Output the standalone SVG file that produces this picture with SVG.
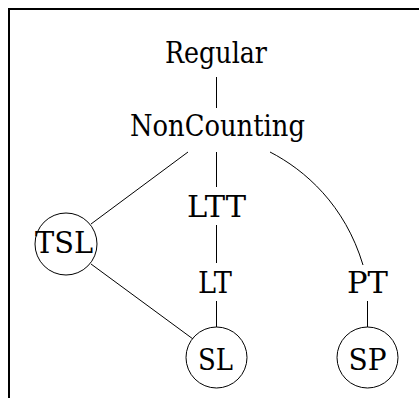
<svg xmlns="http://www.w3.org/2000/svg" width="419" height="398" viewBox="0 0 419 398">
<style>
text{font-family:'DejaVu Serif','Liberation Serif',serif;font-size:29px;fill:#000}
.c{fill:#fff;stroke:#000;stroke-width:1}
.e{fill:none;stroke:#000;stroke-width:1}
.b{fill:none;stroke:#000;stroke-width:2}
</style>
<rect width="419" height="398" fill="#fff"/>
<path class="b" d="M9,398 V9 H419"/>
<g id="connectors">
<line class="e" x1="216.5" y1="77" x2="216.5" y2="108"/>
<line class="e" x1="188" y1="152" x2="91" y2="224"/>
<line class="e" x1="216.5" y1="152" x2="216.5" y2="187"/>
<line class="e" x1="216.5" y1="225" x2="216.5" y2="263"/>
<line class="e" x1="216.5" y1="301" x2="216.5" y2="327"/>
<line class="e" x1="91" y1="264" x2="193" y2="339"/>
<path class="e" d="M270,152 C305,170 345,205 363,265"/>
<line class="e" x1="367.5" y1="301" x2="367.5" y2="327"/>
</g>
<g id="Regular"><text x="165" y="63" textLength="102" lengthAdjust="spacingAndGlyphs">Regular</text></g>
<g id="NonCounting"><text x="130" y="136" textLength="175" lengthAdjust="spacingAndGlyphs">NonCounting</text></g>
<g id="LTT"><text x="187" y="217" textLength="59" lengthAdjust="spacingAndGlyphs">LTT</text></g>
<g id="LT"><text x="198" y="293" textLength="34" lengthAdjust="spacingAndGlyphs">LT</text></g>
<g id="PT"><text x="347" y="293" textLength="41" lengthAdjust="spacingAndGlyphs">PT</text></g>
<g id="TSL"><circle class="c" cx="66" cy="244" r="31"/><text x="35" y="253" textLength="58" lengthAdjust="spacingAndGlyphs">TSL</text></g>
<g id="SL"><circle class="c" cx="216.5" cy="357.5" r="30.5"/><text x="198" y="370" textLength="35" lengthAdjust="spacingAndGlyphs">SL</text></g>
<g id="SP"><circle class="c" cx="367.5" cy="357.5" r="30.5"/><text x="348.5" y="370" textLength="38" lengthAdjust="spacingAndGlyphs">SP</text></g>
</svg>
